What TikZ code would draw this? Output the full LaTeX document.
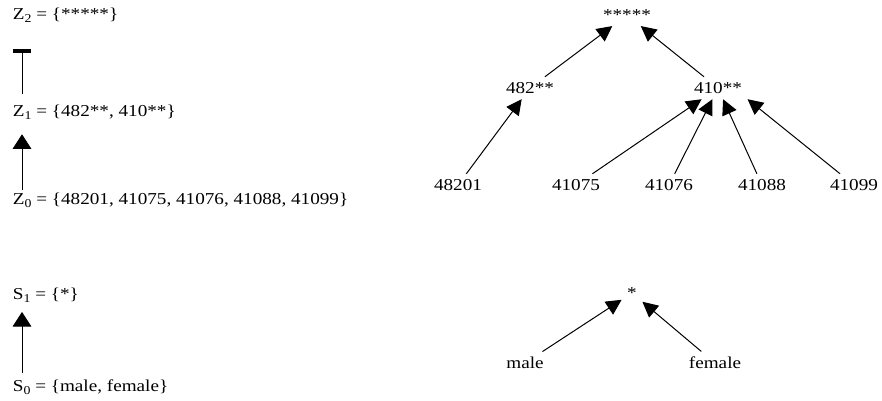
\documentclass[tikz,border=0pt]{standalone}
\usepackage{fontspec}
\setmainfont[FakeStretch=1.15]{Liberation Serif}
\usetikzlibrary{arrows.meta}
\newcommand\sbs[1]{\raisebox{-0.4ex}{\small #1}}
\begin{document}
\begin{tikzpicture}[x=0.75pt,y=-0.75pt,
  every node/.style={font=\fontsize{12.5}{14}\selectfont},
  lbl/.style={anchor=west,inner sep=2pt},
  tn/.style={inner sep=4pt},
  arr/.style={line width=0.75pt,-{Triangle[length=11.5pt,width=11.5pt]}},
  larr/.style={line width=0.75pt,-{Triangle[length=11pt,width=14pt]}},
  barr/.style={line width=0.75pt,-{Bar[width=14pt,line width=3pt]}}]
\useasboundingbox (0,0) rectangle (882,400);
% left column
\node[lbl] (z2) at (10,15) {Z\sbs{2} = \{*****\}};
\node[lbl] (z1) at (10,112) {Z\sbs{1} = \{482**, 410**\}};
\node[lbl] (z0) at (10,200) {Z\sbs{0} = \{48201, 41075, 41076, 41088, 41099\}};
\node[lbl] (s1) at (10,295) {S\sbs{1} = \{*\}};
\node[lbl] (s0) at (10,387) {S\sbs{0} = \{male, female\}};
\draw[barr,shorten <=6pt,shorten >=18pt] ([xshift=9pt]z1.north west) -- ([xshift=9pt]z2.south west);
\draw[larr,shorten >=9pt] ([xshift=9pt]z0.north west) -- ([xshift=9pt]z1.south west);
\draw[larr,shorten <=3pt,shorten >=5pt] ([xshift=9pt]s0.north west) -- ([xshift=9pt]s1.south west);
% tree
\node[tn] (top) at (627,15) {*****};
\node[tn] (a482) at (530,88) {482**};
\node[tn] (a410) at (718,88) {410**};
\node[tn] (b1) at (458,185) {48201};
\node[tn] (b2) at (576,185) {41075};
\node[tn] (b3) at (669,185) {41076};
\node[tn] (b4) at (762,185) {41088};
\node[tn] (b5) at (854,185) {41099};
\draw[arr] (a482) -- (top);
\draw[arr] (a410) -- (top);
\draw[arr] (b1) -- (a482);
\draw[arr] (b2) -- (a410);
\draw[arr] (b3) -- (a410);
\draw[arr] (b4) -- (a410);
\draw[arr] (b5) -- (a410.south east);
% sex tree
\node[tn] (star) at (632,293) {*};
\node[tn] (male) at (525,363) {male};
\node[tn] (female) at (715,363) {female};
\draw[arr] (male) -- (star);
\draw[arr] (female) -- (star);
\end{tikzpicture}
\end{document}
